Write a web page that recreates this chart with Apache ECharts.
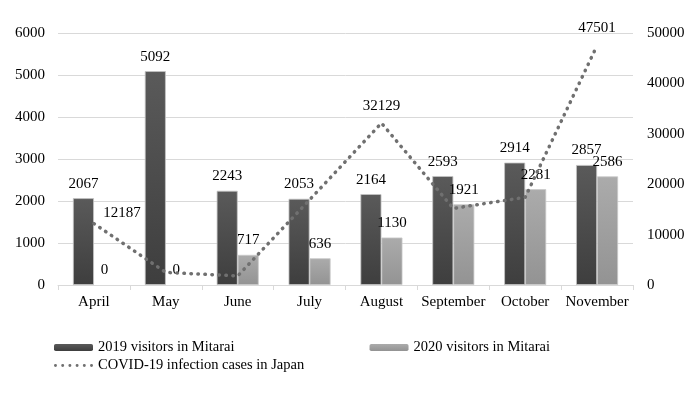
<!DOCTYPE html>
<html><head><meta charset="utf-8">
<script src="https://cdn.jsdelivr.net/npm/echarts@6/dist/echarts.min.js"></script>
<style>html,body{margin:0;padding:0;background:#fff}#c{width:699px;height:393px}</style>
</head><body><div id="c"></div>
<script>
const months = ['April','May','June','July','August','September','October','November'];
const visitors2019 = [2067, 5092, 2243, 2053, 2164, 2593, 2914, 2857];
const visitors2020 = [0, 0, 717, 636, 1130, 1921, 2281, 2586];
const covidCases = [12187, 2500, 1800, 16900, 32129, 15200, 17400, 47501];
const covidLabelShown = [true, false, false, false, true, false, false, true];
const leftTicks = [0, 6000, 1000];
const rightTicks = [0, 50000, 10000];

const font = '"Liberation Serif", "Times New Roman", serif';
const chart = echarts.init(document.getElementById('c'));
const grad = (a, b) => new echarts.graphic.LinearGradient(0, 0, 0, 1, [{offset:0,color:a},{offset:1,color:b}]);
let dots = '';
for (let i = 0; i < 6; i++) { const cx = 1.5 + i * 7.3; dots += `M${cx - 1.5},1.5 a1.5,1.5 0 1,0 3,0 a1.5,1.5 0 1,0 -3,0 `; }
const legText = {fontFamily: font, fontSize: 14.5, color: '#000'};
const lbl = {show: true, position: 'top', distance: 7, fontFamily: font, fontSize: 15, color: '#000'};
const barData = arr => arr.map(v => ({value: v, itemStyle: {borderWidth: v === 0 ? 0 : 0.8}}));
chart.setOption({
  animation: false,
  textStyle: {fontFamily: font, color: '#000'},
  grid: {left: 58, right: 66, top: 33, bottom: 108, containLabel: false},
  legend: [
    {id: 'lg1', left: 54, top: 340, padding: 0, itemWidth: 39, itemHeight: 7, itemGap: 135,
     textStyle: legText, itemStyle: {borderWidth: 0},
     data: ['2019 visitors in Mitarai', '2020 visitors in Mitarai']},
    {id: 'lg2', left: 54, top: 358, padding: 0, itemWidth: 39, itemHeight: 3,
     textStyle: legText,
     data: [{name: 'COVID-19 infection cases in Japan', icon: 'path://' + dots}]}
  ],
  xAxis: {
    type: 'category', data: months,
    axisLine: {lineStyle: {color: '#d9d9d9'}},
    axisTick: {show: true, length: 5, lineStyle: {color: '#d9d9d9'}},
    axisLabel: {fontFamily: font, fontSize: 15, color: '#000', margin: 10, interval: 0}
  },
  yAxis: [
    {type: 'value', min: leftTicks[0], max: leftTicks[1], interval: leftTicks[2],
     axisLabel: {fontFamily: font, fontSize: 15, color: '#000', margin: 13, formatter: v => String(v)},
     splitLine: {lineStyle: {color: '#d9d9d9'}}},
    {type: 'value', min: rightTicks[0], max: rightTicks[1], interval: rightTicks[2], position: 'right',
     axisLabel: {fontFamily: font, fontSize: 15, color: '#000', margin: 14, formatter: v => String(v)},
     splitLine: {show: false}}
  ],
  series: [
    {name: '2019 visitors in Mitarai', type: 'bar', data: barData(visitors2019), barWidth: 21, barGap: '0%',
     itemStyle: {color: grad('#5a5a5a', '#3e3e3e'), borderColor: '#c4c4c4', borderWidth: 0.8},
     label: lbl},
    {name: '2020 visitors in Mitarai', type: 'bar', data: barData(visitors2020), barWidth: 21,
     itemStyle: {color: grad('#ababab', '#939393'), borderColor: '#c8c8c8', borderWidth: 0.8},
     label: lbl},
    {name: 'COVID-19 infection cases in Japan', type: 'line', yAxisIndex: 1, showSymbol: true, symbol: 'circle', symbolSize: 0,
     data: covidCases.map((v, i) => ({value: v, label: {show: covidLabelShown[i], offset: i === 0 ? [28, 7] : [0, 0]}})),
     itemStyle: {color: '#707070'},
     lineStyle: {color: '#707070', width: 3.5, type: [0.5, 6.5], cap: 'round'},
     label: {show: false, position: 'top', distance: 10, fontFamily: font, fontSize: 15, color: '#000'},
     emphasis: {disabled: true},
     z: 5}
  ]
});
</script></body></html>
